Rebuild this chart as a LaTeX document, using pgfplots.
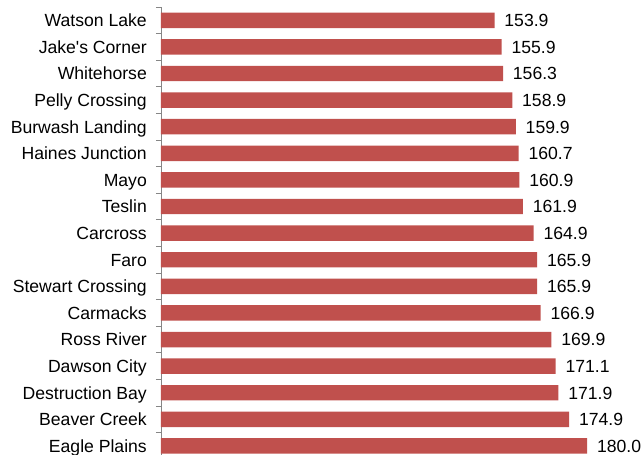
\documentclass[border=0pt]{standalone}
\usepackage{pgfplots}
\pgfplotsset{compat=1.18}
\usepackage{fontspec}
\setmainfont{Liberation Sans}
\definecolor{barred}{HTML}{C0504D}
\definecolor{axgray}{HTML}{868686}
\begin{document}
\begin{tikzpicture}
\begin{axis}[
 scale only axis, width=482pt, height=448pt,
 xbar, bar width=0.58,
 xmin=60, xmax=195.7, ymin=-0.34, ymax=16.5,
 hide x axis,
 axis y line*=left,
 y axis line style={axgray, line width=0.8pt},
 ytick={0,...,16},
 yticklabels={Eagle Plains,Beaver Creek,Destruction Bay,Dawson City,Ross River,Carmacks,Stewart Crossing,Faro,Carcross,Teslin,Mayo,Haines Junction,Burwash Landing,Pelly Crossing,Whitehorse,Jake\textquotesingle s Corner,Watson Lake},
 major tick length=0pt,
 minor ytick={0.5,1.5,...,16.5},
 minor tick length=5pt,
 tick align=outside,
 minor tick style={axgray, line width=0.8pt},
 yticklabel style={font=\fontsize{17.6}{20}\selectfont, anchor=east, inner sep=0pt, text height=12.6pt, text depth=0pt, xshift=-14pt},
 nodes near coords={\pgfmathprintnumber[fixed,fixed zerofill,precision=1,assume math mode=true]{\pgfplotspointmeta}},
 nodes near coords style={font=\fontsize{17.6}{20}\selectfont, anchor=west, inner sep=0pt, text height=12.6pt, text depth=0pt, xshift=9.7pt, text=black},
]
\addplot[fill=barred, draw=none] coordinates {
(180.0,0) (174.9,1) (171.9,2) (171.1,3) (169.9,4) (166.9,5) (165.9,6) (165.9,7) (164.9,8) (161.9,9) (160.9,10) (160.7,11) (159.9,12) (158.9,13) (156.3,14) (155.9,15) (153.9,16)
};
\end{axis}
\pgfresetboundingbox
\path (current axis.south west) ++(-161pt,0) rectangle ++(643pt,455pt);
\end{tikzpicture}
\end{document}
